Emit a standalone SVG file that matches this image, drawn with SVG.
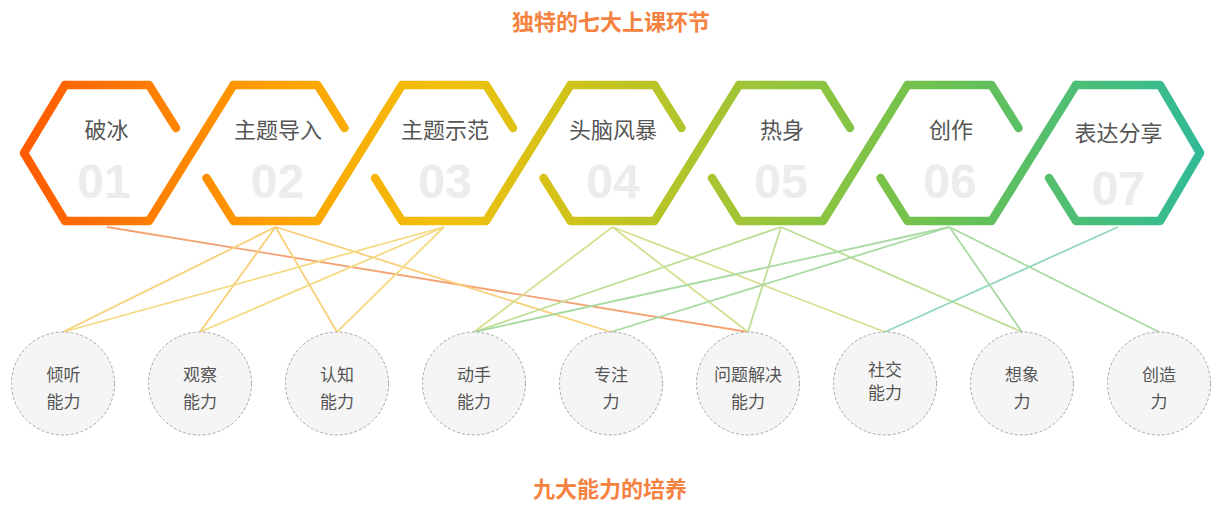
<svg xmlns="http://www.w3.org/2000/svg" width="1226" height="517" viewBox="0 0 1226 517">
<defs>
<linearGradient id="g" gradientUnits="userSpaceOnUse" x1="20" y1="0" x2="1205" y2="0">
<stop offset="0" stop-color="#FF5A00"/>
<stop offset="0.215" stop-color="#FFA000"/>
<stop offset="0.358" stop-color="#F2C00C"/>
<stop offset="0.5" stop-color="#C4C420"/>
<stop offset="0.642" stop-color="#96C53C"/>
<stop offset="0.785" stop-color="#6AC152"/>
<stop offset="0.927" stop-color="#44BE80"/>
<stop offset="1" stop-color="#30BA98"/>
</linearGradient>
<style>
.hx{fill:none;stroke:url(#g);stroke-width:8.5;stroke-linecap:round;stroke-linejoin:round}
.lb{font-family:"Noto Sans CJK SC","Noto Sans",sans-serif;font-size:22px;fill:#555;text-anchor:middle;dominant-baseline:central}
.nm{font-family:"Liberation Sans",Arial,sans-serif;font-weight:bold;font-size:48px;fill:#ECECEC;text-anchor:middle}
.cc{fill:#F5F5F5;stroke:#A8A8A8;stroke-width:1;stroke-dasharray:3 2}
.ct{font-family:"Noto Sans CJK SC","Noto Sans",sans-serif;font-size:17px;fill:#555;text-anchor:middle;dominant-baseline:central}
.tt{font-family:"Noto Sans CJK SC","Noto Sans",sans-serif;font-size:22px;font-weight:bold;fill:#F5823F;text-anchor:middle;dominant-baseline:central}
.ln{fill:none;stroke-width:1.8}
.l1{stroke:#F5A273}.l2{stroke:#F9CF78}.l3{stroke:#F4DA80}.l4{stroke:#D8DE8E}.l5{stroke:#BFDE95}.l6{stroke:#A8DAA2}.l7{stroke:#93D7BC}
</style>
</defs>
<rect width="1226" height="517" fill="#FFFFFF"/>
<text class="tt" x="611" y="20">独特的七大上课环节</text>
<text class="tt" x="610" y="487">九大能力的培养</text>

<g id="connectors">
<line class="ln l1" x1="107" y1="227" x2="748" y2="332"/>
<line class="ln l2" x1="275.5" y1="227" x2="63" y2="332"/>
<line class="ln l2" x1="275.5" y1="227" x2="200" y2="332"/>
<line class="ln l2" x1="275.5" y1="227" x2="337" y2="332"/>
<line class="ln l2" x1="275.5" y1="227" x2="611" y2="332"/>
<line class="ln l3" x1="444" y1="227" x2="63" y2="332"/>
<line class="ln l3" x1="444" y1="227" x2="200" y2="332"/>
<line class="ln l3" x1="444" y1="227" x2="337" y2="332"/>
<line class="ln l4" x1="612.5" y1="227" x2="474" y2="332"/>
<line class="ln l4" x1="612.5" y1="227" x2="748" y2="332"/>
<line class="ln l4" x1="612.5" y1="227" x2="885" y2="332"/>
<line class="ln l5" x1="781" y1="227" x2="474" y2="332"/>
<line class="ln l5" x1="781" y1="227" x2="748" y2="332"/>
<line class="ln l5" x1="781" y1="227" x2="1022" y2="332"/>
<line class="ln l6" x1="949.5" y1="227" x2="474" y2="332"/>
<line class="ln l6" x1="949.5" y1="227" x2="611" y2="332"/>
<line class="ln l6" x1="949.5" y1="227" x2="1022" y2="332"/>
<line class="ln l6" x1="949.5" y1="227" x2="1159" y2="332"/>
<line class="ln l7" x1="1118" y1="227" x2="885" y2="332"/>
</g>

<g id="hex1">
<path class="hx" d="M65,85 H149 L176,128"/>
<path class="hx" d="M65,85 L24,153 L65,221 H149 L233.5,85"/>
<text class="lb" x="106.5" y="128">破冰</text>
<text class="nm" x="104" y="198">01</text>
</g>
<g id="hex2">
<path class="hx" d="M233.5,85 H317.5 L344.5,128"/>
<path class="hx" d="M206.5,178 L233.5,221 H317.5 L402,85"/>
<text class="lb" x="278" y="128">主题导入</text>
<text class="nm" x="277.5" y="198">02</text>
</g>
<g id="hex3">
<path class="hx" d="M402,85 H486 L513,128"/>
<path class="hx" d="M375,178 L402,221 H486 L570.5,85"/>
<text class="lb" x="445" y="128">主题示范</text>
<text class="nm" x="445" y="198">03</text>
</g>
<g id="hex4">
<path class="hx" d="M570.5,85 H654.5 L681.5,128"/>
<path class="hx" d="M543.5,178 L570.5,221 H654.5 L739,85"/>
<text class="lb" x="613" y="128">头脑风暴</text>
<text class="nm" x="613" y="198">04</text>
</g>
<g id="hex5">
<path class="hx" d="M739,85 H823 L850,128"/>
<path class="hx" d="M712,178 L739,221 H823 L907.5,85"/>
<text class="lb" x="782" y="128">热身</text>
<text class="nm" x="781" y="198">05</text>
</g>
<g id="hex6">
<path class="hx" d="M907.5,85 H991.5 L1018.5,128"/>
<path class="hx" d="M880.5,178 L907.5,221 H991.5 L1076,85"/>
<text class="lb" x="951" y="128">创作</text>
<text class="nm" x="950" y="198">06</text>
</g>
<g id="hex7">
<path class="hx" d="M1049,178 L1076,221 H1160 L1200,153 L1160,85 H1076"/>
<text class="lb" x="1118.5" y="131">表达分享</text>
<text class="nm" x="1118.5" y="205">07</text>
</g>

<g id="c1"><circle class="cc" cx="63" cy="383.5" r="51.5"/><text class="ct" x="63.5" y="373.5">倾听</text><text class="ct" x="63.5" y="400.5">能力</text></g>
<g id="c2"><circle class="cc" cx="200" cy="383.5" r="51.5"/><text class="ct" x="200" y="373.5">观察</text><text class="ct" x="200" y="400.5">能力</text></g>
<g id="c3"><circle class="cc" cx="337" cy="383.5" r="51.5"/><text class="ct" x="337" y="373.5">认知</text><text class="ct" x="337" y="400.5">能力</text></g>
<g id="c4"><circle class="cc" cx="474" cy="383.5" r="51.5"/><text class="ct" x="474" y="373.5">动手</text><text class="ct" x="474" y="400.5">能力</text></g>
<g id="c5"><circle class="cc" cx="611" cy="383.5" r="51.5"/><text class="ct" x="611" y="373.5">专注</text><text class="ct" x="611" y="400.5">力</text></g>
<g id="c6"><circle class="cc" cx="748" cy="383.5" r="51.5"/><text class="ct" x="748" y="373.5">问题解决</text><text class="ct" x="748" y="400.5">能力</text></g>
<g id="c7"><circle class="cc" cx="885" cy="383.5" r="51.5"/><text class="ct" x="885" y="368.5">社交</text><text class="ct" x="885" y="391.5">能力</text></g>
<g id="c8"><circle class="cc" cx="1022" cy="383.5" r="51.5"/><text class="ct" x="1022" y="373.5">想象</text><text class="ct" x="1022" y="400.5">力</text></g>
<g id="c9"><circle class="cc" cx="1159" cy="383.5" r="51.5"/><text class="ct" x="1159" y="373.5">创造</text><text class="ct" x="1159" y="400.5">力</text></g>
</svg>
